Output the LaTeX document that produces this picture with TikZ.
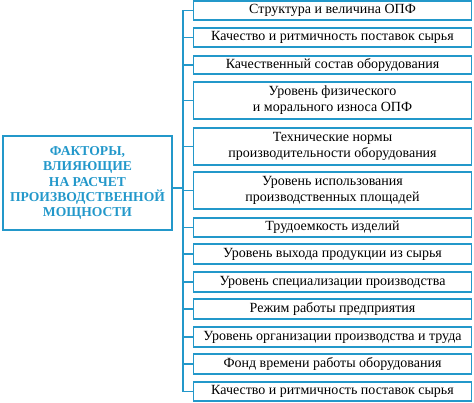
\documentclass[tikz,border=0pt]{standalone}
\usepackage{fontspec}
\setmainfont{Liberation Serif}
\definecolor{bl}{RGB}{35,152,202}
\begin{document}
\begin{tikzpicture}[x=1pt,y=-1pt,
  fbox/.style={draw=bl,line width=1.7pt,minimum width=278pt,inner sep=0pt,align=center,font=\fontsize{14}{16}\selectfont,text=black},
  conn/.style={draw=bl,line width=1.7pt}]
\useasboundingbox (0,0) rectangle (474,402);
\def\bx#1#2#3#4{\node[fbox,minimum height=#3-#2 pt] (#1) at (332.5,{(#2+#3)/2}) {#4};}
\bx{b1}{0.8}{20}{Структура и величина ОПФ}
\bx{b2}{28}{47}{Качество и ритмичность поставок сырья}
\bx{b3}{56}{74}{Качественный состав оборудования}
\bx{b4}{82}{119}{Уровень физического\\и морального износа ОПФ}
\bx{b5}{128}{165}{Технические нормы\\производительности оборудования}
\bx{b6}{172}{209}{Уровень использования\\производственных площадей}
\bx{b7}{218}{237}{Трудоемкость изделий}
\bx{b8}{244}{264}{Уровень выхода продукции из сырья}
\bx{b9}{272}{292}{Уровень специализации производства}
\bx{b10}{299}{319}{Режим работы предприятия}
\bx{b11}{327}{347}{Уровень организации производства и труда}
\bx{b12}{354}{374}{Фонд времени работы оборудования}
\bx{b13}{382}{401.2}{Качество и ритмичность поставок сырья}
\node[draw=bl,line width=1.7pt,minimum width=169pt,minimum height=94pt,inner sep=0pt,align=center,text=bl,font=\bfseries\fontsize{13.6}{15.2}\selectfont] (L) at (87.5,183) {ФАКТОРЫ,\\ВЛИЯЮЩИЕ\\НА РАСЧЕТ\\ПРОИЗВОДСТВЕННОЙ\\МОЩНОСТИ};
\coordinate (top) at (183,10);
\coordinate (bot) at (183,392);
\draw[conn] (top) -- (bot);
\foreach \n in {b1,b2,b3,b4,b5,b6,b7,b8,b9,b10,b11,b12,b13}{
  \draw[conn] (top |- \n.west) -- (\n.west);
}
\draw[conn] (L.east |- 0,188) -- (top |- 0,188);
\end{tikzpicture}
\end{document}
